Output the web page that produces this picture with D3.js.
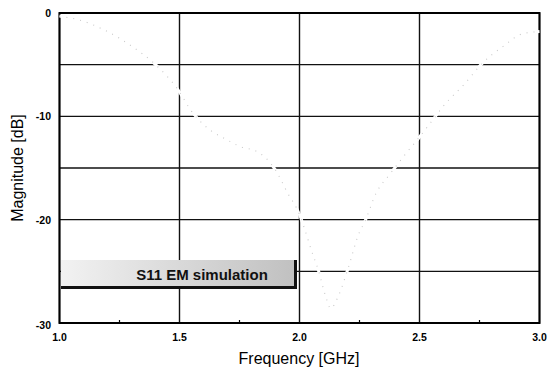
<!DOCTYPE html>
<html><head><meta charset="utf-8">
<script src="https://cdn.jsdelivr.net/npm/d3@7"></script>
<style>body{margin:0;background:#fff;}svg{display:block;font-family:"Liberation Sans",Arial,sans-serif;}</style>
</head><body>
<svg id="c" width="547" height="374"></svg>
<script>
// Data
const freqGHz = [1.0,1.1,1.2,1.3,1.4,1.49,1.55,1.6,1.7,1.75,1.83,1.9,1.95,2.0,2.02,2.05,2.08,2.11,2.13,2.16,2.2,2.25,2.27,2.32,2.38,2.44,2.5,2.56,2.6,2.69,2.76,2.85,2.93,3.0];
const s11dB   = [-0.3,-0.8,-1.8,-3.2,-5.0,-7.3,-9.5,-10.8,-12.3,-12.9,-13.5,-15.2,-17.4,-19.5,-20.8,-23.0,-25.0,-27.5,-28.6,-27.5,-24.9,-21.2,-20.3,-17.4,-15.5,-13.7,-12.0,-10.2,-9.0,-6.8,-4.9,-3.2,-2.0,-1.8];
const xTicks = [1.0,1.5,2.0,2.5,3.0];
const xMinorTicks = [1.25,1.75,2.25,2.75];
const yGrid = [0,-5,-10,-15,-20,-25,-30];
const yTickLabels = [0,-10,-20,-30];
const legendLabel = "S11 EM simulation";

const svg = d3.select("#c");
const x = d3.scaleLinear().domain([1,3]).range([59.5,539.5]);
const y = d3.scaleLinear().domain([-30,0]).range([323,13]);

// gridlines
svg.append("g").selectAll("line").data(yGrid).join("line")
  .attr("x1",x(1)).attr("x2",x(3)).attr("y1",d=>y(d)).attr("y2",d=>y(d))
  .attr("stroke","#111").attr("stroke-width",1.4);
svg.append("g").selectAll("line").data(xTicks).join("line")
  .attr("x1",d=>x(d)).attr("x2",d=>x(d)).attr("y1",y(0)).attr("y2",y(-30))
  .attr("stroke","#111").attr("stroke-width",1.4);
// frame
svg.append("rect").attr("x",x(1)).attr("y",y(0)).attr("width",x(3)-x(1)).attr("height",y(-30)-y(0))
  .attr("fill","none").attr("stroke","#000").attr("stroke-width",2);
// minor ticks
svg.append("g").selectAll("line").data(xMinorTicks).join("line")
  .attr("x1",d=>x(d)).attr("x2",d=>x(d)).attr("y1",y(-30)).attr("y2",y(-30)-3)
  .attr("stroke","#000").attr("stroke-width",1.2);

// data curve (very faint in the reference)
const line = d3.line().x((d,i)=>x(freqGHz[i])).y(d=>y(d)).curve(d3.curveMonotoneX);
svg.append("path").datum(s11dB).attr("d",line).attr("fill","none")
  .attr("stroke","#fff").attr("stroke-width",3);
svg.append("path").datum(s11dB).attr("d",line).attr("fill","none")
  .attr("stroke","#c8c8c8").attr("stroke-width",1.1).attr("stroke-dasharray","1,6");

// tick labels
svg.append("g").selectAll("text").data(xTicks).join("text")
  .attr("x",d=>x(d)).attr("y",341).attr("text-anchor","middle")
  .attr("font-size",10.5).attr("font-weight","bold").text(d=>d.toFixed(1));
svg.append("g").selectAll("text").data(yTickLabels).join("text")
  .attr("x",51).attr("y",d=>y(d)+ (d===-30?6:4)).attr("text-anchor","end")
  .attr("font-size",10.5).attr("font-weight","bold").text(d=>d);

// axis titles
svg.append("text").attr("x",299).attr("y",364).attr("text-anchor","middle")
  .attr("font-size",16).text("Frequency [GHz]");
svg.append("text").attr("transform","translate(23,168) rotate(-90)").attr("text-anchor","middle")
  .attr("font-size",16).text("Magnitude [dB]");

// legend
const defs = svg.append("defs");
const g = defs.append("linearGradient").attr("id","lg");
g.append("stop").attr("offset","0%").attr("stop-color","#f2f2f2");
g.append("stop").attr("offset","100%").attr("stop-color","#c0c0c0");
const lx = 61, ly = 260, lw = 236, lh = 29;
svg.append("rect").attr("x",lx).attr("y",ly).attr("width",lw).attr("height",lh).attr("fill","url(#lg)");
svg.append("line").attr("x1",lx).attr("x2",lx+lw).attr("y1",ly+lh-1.5).attr("y2",ly+lh-1.5)
  .attr("stroke","#111").attr("stroke-width",3);
svg.append("line").attr("x1",lx+lw-1.5).attr("x2",lx+lw-1.5).attr("y1",ly).attr("y2",ly+lh)
  .attr("stroke","#111").attr("stroke-width",3);
svg.append("text").attr("x",202).attr("y",280).attr("text-anchor","middle")
  .attr("font-size",15).attr("font-weight","bold").attr("fill","#111").text(legendLabel);
</script>
</body></html>
